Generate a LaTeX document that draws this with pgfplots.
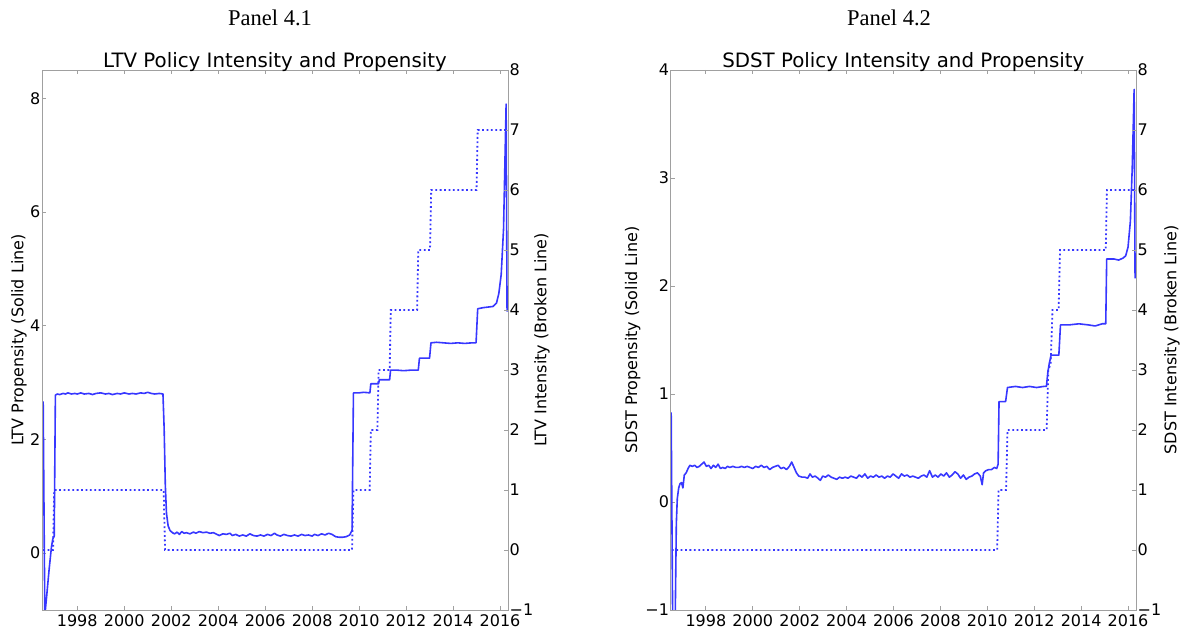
\documentclass[border=0pt]{standalone}
\usepackage{pgfplots}
\pgfplotsset{compat=1.18}
\usepackage{fontspec}
\setmainfont{DejaVu Sans}
\newfontfamily\timesfont{Liberation Serif}
\definecolor{lineblue}{RGB}{55,55,255}
\definecolor{spine}{RGB}{160,160,160}
\pgfplotsset{
  base/.style={
    scale only axis, anchor=south west, width=466bp, height=540bp,
    xmin=1996.5, xmax=2016.34,
    tick align=inside, major tick length=4bp,
    axis line style={spine, line width=0.8bp},
    every tick/.style={spine, line width=0.8bp},
    tick label style={font=\fontsize{16bp}{19bp}\selectfont, inner sep=1.5bp},
    label style={font=\fontsize{16bp}{19bp}\selectfont},
    title style={font=\fontsize{19.8bp}{22bp}\selectfont, at={(0.5,1)}, anchor=base, yshift=-3bp},
    xtick={1998,2000,2002,2004,2006,2008,2010,2012,2014,2016},
    xticklabels={1998,2000,2002,2004,2006,2008,2010,2012,2014,2016},
    xticklabel style={yshift=-3bp},
  },
  leftax/.style={base, xtick pos=both, ytick pos=left},
  rightax/.style={base, hide x axis, ytick pos=right, yticklabel pos=right,
    ymin=-1, ymax=8, ytick={-1,0,1,2,3,4,5,6,7,8},
    yticklabels={−1,0,1,2,3,4,5,6,7,8}},
  solidline/.style={lineblue, line width=1.6bp, line join=round},
  dotline/.style={lineblue, line width=1.8bp, dash pattern=on 1.8bp off 2.6bp},
}
\begin{document}
\begin{tikzpicture}
\useasboundingbox (0,0) rectangle (1189bp,632bp);
\node[font=\timesfont\fontsize{22.5bp}{25bp}\selectfont, anchor=base] at (270bp,606bp) {Panel 4.1};
\node[font=\timesfont\fontsize{22.5bp}{25bp}\selectfont, anchor=base] at (889bp,606bp) {Panel 4.2};
% ---------------- Panel 4.1 ----------------
\begin{axis}[leftax, at={(42bp,22bp)}, ymin=-1, ymax=8.5, ytick={0,2,4,6,8},
  yticklabels={0,2,4,6,8},
  title={LTV Policy Intensity and Propensity},
  ylabel={LTV Propensity (Solid Line)},
  ylabel style={at={([xshift=-23bp]axis description cs:0,0.5)}, anchor=center}]
\addplot[solidline] coordinates {
(1996.55,2.67)(1996.62,-1.1)(1996.70,-0.75)(1996.80,-0.3)(1996.90,0.1)(1996.96,0.25)(1997.02,0.30)
(1997.07,2.78)(1997.15,2.80)(1997.25,2.79)(1997.40,2.81)(1997.50,2.80)(1997.60,2.82)(1997.75,2.80)
(1997.90,2.81)(1998.00,2.80)(1998.15,2.82)(1998.30,2.80)(1998.50,2.81)(1998.65,2.79)(1998.80,2.81)
(1999.00,2.82)(1999.20,2.80)(1999.35,2.81)(1999.50,2.79)(1999.70,2.81)(1999.85,2.80)(2000.00,2.82)
(2000.20,2.80)(2000.35,2.81)(2000.50,2.80)(2000.70,2.82)(2000.85,2.81)(2001.00,2.83)(2001.15,2.81)
(2001.30,2.80)(2001.50,2.81)(2001.65,2.80)(2001.70,2.2)(2001.75,1.2)(2001.80,0.70)(2001.87,0.48)
(2001.95,0.40)(2002.05,0.36)(2002.15,0.34)(2002.25,0.37)(2002.35,0.33)(2002.45,0.38)(2002.55,0.35)
(2002.65,0.36)(2002.80,0.34)(2002.95,0.37)(2003.05,0.35)(2003.20,0.38)(2003.35,0.36)(2003.50,0.37)
(2003.65,0.35)(2003.80,0.36)(2003.95,0.33)(2004.05,0.31)(2004.20,0.34)(2004.35,0.33)(2004.50,0.35)
(2004.60,0.31)(2004.75,0.33)(2004.90,0.30)(2005.05,0.32)(2005.20,0.30)(2005.35,0.34)(2005.50,0.31)
(2005.65,0.30)(2005.80,0.32)(2005.95,0.30)(2006.10,0.33)(2006.25,0.31)(2006.40,0.35)(2006.50,0.32)
(2006.65,0.30)(2006.80,0.33)(2006.95,0.31)(2007.10,0.30)(2007.25,0.32)(2007.40,0.30)(2007.55,0.33)
(2007.70,0.31)(2007.85,0.32)(2008.00,0.30)(2008.10,0.33)(2008.25,0.31)(2008.40,0.34)(2008.55,0.32)
(2008.70,0.35)(2008.85,0.33)(2009.00,0.29)(2009.15,0.28)(2009.30,0.28)(2009.45,0.29)(2009.60,0.32)
(2009.70,0.40)(2009.76,2.82)(2010.00,2.82)(2010.20,2.83)(2010.46,2.82)(2010.50,2.98)(2010.83,2.98)
(2010.86,3.05)(2011.30,3.05)(2011.34,3.22)(2011.60,3.22)(2011.90,3.21)(2012.20,3.22)(2012.52,3.22)
(2012.57,3.43)(2013.00,3.43)(2013.06,3.70)(2013.30,3.71)(2013.60,3.70)(2013.90,3.69)(2014.20,3.70)
(2014.50,3.69)(2014.80,3.70)(2014.98,3.70)(2015.05,4.30)(2015.30,4.32)(2015.50,4.33)(2015.70,4.34)
(2015.85,4.40)(2015.95,4.57)(2016.05,4.90)(2016.15,5.70)(2016.26,7.90)(2016.30,4.25)
};
\end{axis}
\begin{axis}[rightax, at={(42bp,22bp)},
  ylabel={LTV Intensity (Broken Line)},
  ylabel style={at={([xshift=34bp]axis description cs:1,0.5)}, anchor=center}]
\addplot[dotline] coordinates {
(1996.55,0)(1996.97,0)(1997.02,1)(2001.68,1)(2001.74,0)(2009.70,0)(2009.76,1)(2010.45,1)(2010.50,2)
(2010.78,2)(2010.83,3)(2011.30,3)(2011.35,4)(2012.47,4)(2012.52,5)(2013.02,5)(2013.07,6)(2015.00,6)
(2015.05,7)(2016.28,7)
};
\end{axis}
% ---------------- Panel 4.2 ----------------
\begin{axis}[leftax, at={(670.7bp,22bp)}, width=465.3bp, ymin=-1, ymax=4, ytick={-1,0,1,2,3,4},
  yticklabels={−1,0,1,2,3,4},
  title={SDST Policy Intensity and Propensity},
  ylabel={SDST Propensity (Solid Line)},
  ylabel style={at={([xshift=-38bp]axis description cs:0,0.5)}, anchor=center}]
\addplot[solidline] coordinates {
(1996.52,0.83)(1996.60,-1.6)(1996.68,-1.3)(1996.74,-0.2)(1996.78,0.03)(1996.84,0.13)(1996.90,0.17)
(1996.96,0.18)(1997.02,0.13)(1997.08,0.25)(1997.16,0.27)(1997.24,0.31)(1997.32,0.34)(1997.42,0.33)
(1997.52,0.34)(1997.62,0.32)(1997.72,0.33)(1997.82,0.35)(1997.92,0.37)(1998.02,0.33)(1998.12,0.34)
(1998.22,0.31)(1998.32,0.34)(1998.42,0.32)(1998.52,0.35)(1998.62,0.31)(1998.72,0.32)(1998.82,0.31)
(1998.92,0.33)(1999.02,0.32)(1999.15,0.33)(1999.28,0.32)(1999.40,0.32)(1999.52,0.33)(1999.64,0.32)
(1999.76,0.33)(1999.88,0.32)(2000.00,0.31)(2000.12,0.33)(2000.24,0.32)(2000.36,0.34)(2000.48,0.32)
(2000.60,0.33)(2000.72,0.30)(2000.84,0.32)(2000.96,0.33)(2001.08,0.34)(2001.20,0.31)(2001.32,0.32)
(2001.44,0.30)(2001.56,0.33)(2001.66,0.37)(2001.76,0.32)(2001.86,0.27)(2001.96,0.24)(2002.10,0.23)
(2002.22,0.23)(2002.34,0.22)(2002.44,0.26)(2002.54,0.23)(2002.66,0.24)(2002.78,0.22)(2002.88,0.20)
(2002.98,0.24)(2003.10,0.23)(2003.22,0.25)(2003.34,0.23)(2003.46,0.22)(2003.58,0.21)(2003.70,0.23)
(2003.82,0.22)(2003.94,0.23)(2004.06,0.22)(2004.18,0.24)(2004.30,0.23)(2004.42,0.22)(2004.54,0.25)
(2004.66,0.23)(2004.78,0.26)(2004.90,0.22)(2005.02,0.24)(2005.14,0.23)(2005.26,0.25)(2005.38,0.23)
(2005.50,0.24)(2005.62,0.22)(2005.74,0.24)(2005.86,0.23)(2005.98,0.26)(2006.10,0.24)(2006.22,0.22)
(2006.34,0.26)(2006.46,0.24)(2006.58,0.25)(2006.70,0.23)(2006.82,0.24)(2006.94,0.23)(2007.06,0.22)
(2007.18,0.24)(2007.30,0.25)(2007.42,0.23)(2007.54,0.29)(2007.66,0.23)(2007.78,0.25)(2007.90,0.23)
(2008.02,0.26)(2008.14,0.24)(2008.26,0.27)(2008.38,0.23)(2008.50,0.25)(2008.62,0.28)(2008.74,0.26)
(2008.86,0.22)(2008.98,0.25)(2009.10,0.21)(2009.22,0.23)(2009.34,0.24)(2009.46,0.26)(2009.58,0.27)
(2009.70,0.24)(2009.78,0.16)(2009.84,0.27)(2009.94,0.29)(2010.06,0.30)(2010.18,0.30)(2010.30,0.32)
(2010.40,0.31)(2010.46,0.35)(2010.50,0.93)(2010.78,0.93)(2010.86,1.06)(2011.20,1.07)(2011.50,1.06)
(2011.80,1.07)(2012.10,1.06)(2012.40,1.07)(2012.52,1.07)(2012.58,1.20)(2012.64,1.28)(2012.72,1.36)
(2013.05,1.36)(2013.12,1.64)(2013.50,1.64)(2013.90,1.65)(2014.30,1.64)(2014.60,1.63)(2014.90,1.65)
(2015.05,1.65)(2015.09,2.25)(2015.40,2.25)(2015.60,2.24)(2015.80,2.26)(2015.90,2.28)(2016.00,2.36)
(2016.10,2.60)(2016.18,3.10)(2016.26,3.82)(2016.30,2.07)
};
\end{axis}
\begin{axis}[rightax, at={(670.7bp,22bp)}, width=465.3bp,
  ylabel={SDST Intensity (Broken Line)},
  ylabel style={at={([xshift=36bp]axis description cs:1,0.5)}, anchor=center}]
\addplot[dotline] coordinates {
(1996.55,0)(2010.42,0)(2010.48,1)(2010.80,1)(2010.86,2)(2012.53,2)(2012.60,3)(2012.70,3.1)(2012.78,4)
(2013.04,4)(2013.10,5)(2015.05,5)(2015.10,6)(2016.30,6)
};
\end{axis}
\end{tikzpicture}
\end{document}
